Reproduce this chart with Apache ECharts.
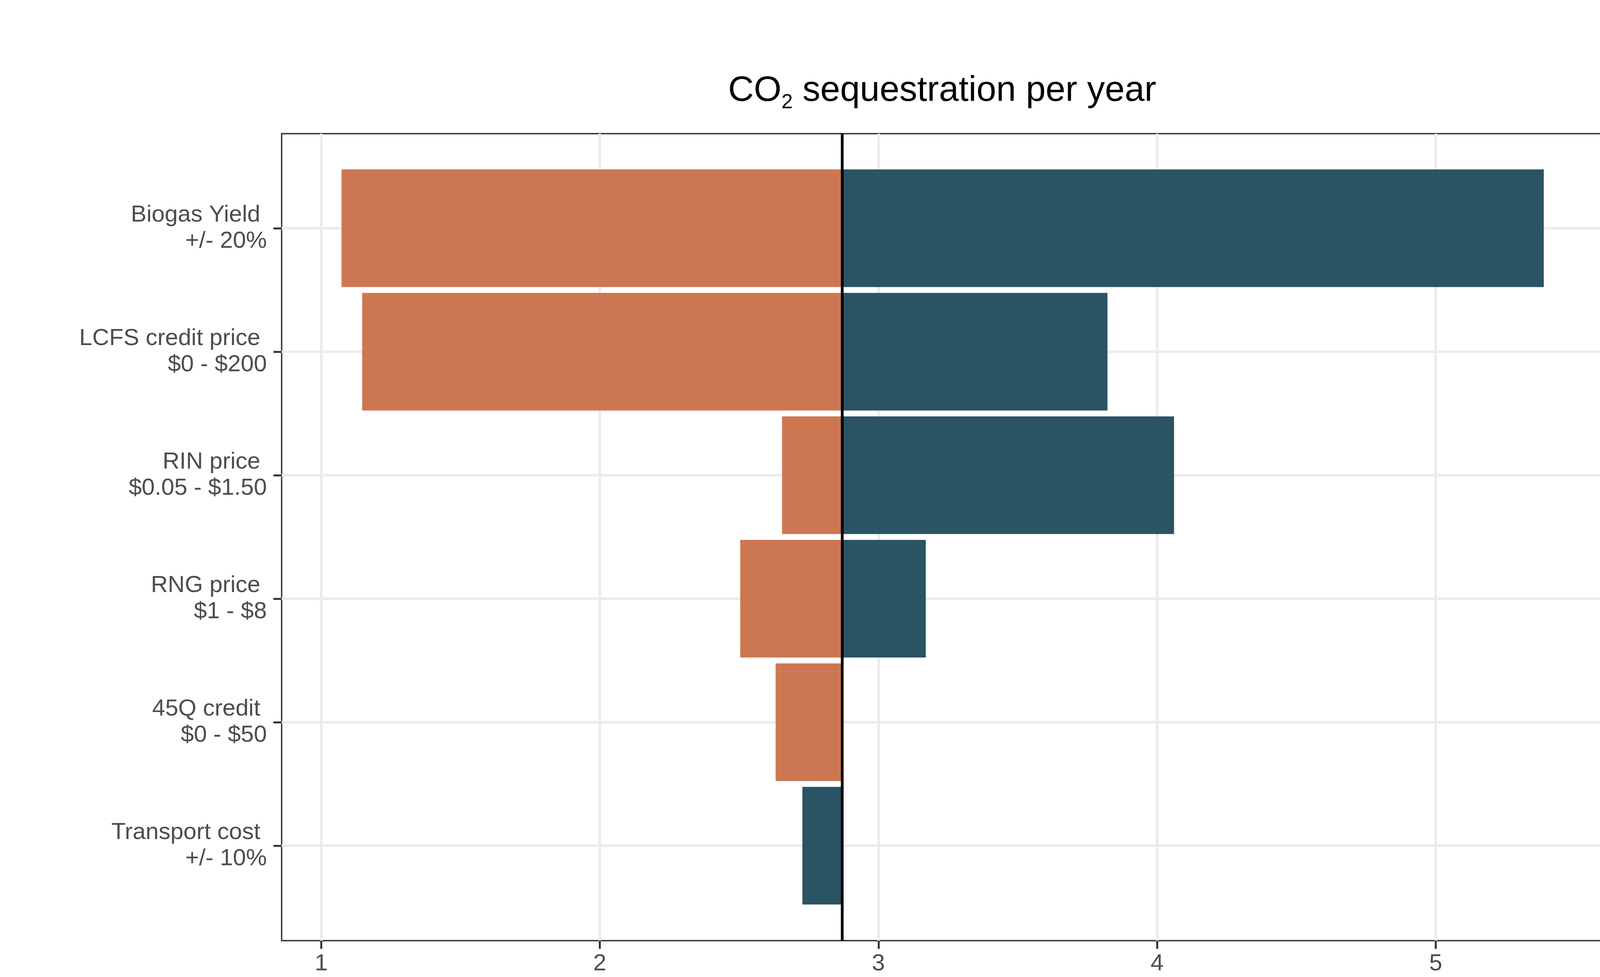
<!DOCTYPE html>
<html>
<head>
<meta charset="utf-8">
<script src="https://cdn.jsdelivr.net/npm/echarts@6/dist/echarts.min.js"></script>
<style>
  html, body { margin: 0; padding: 0; background: #ffffff; }
  #chart { width: 4500px; height: 2500px; }
</style>
</head>
<body>
<div id="chart"></div>
<script>
// ---- data ----
const categories = [
  'Biogas Yield \n+/- 20%',
  'LCFS credit price \n$0 - $200',
  'RIN price \n$0.05 - $1.50',
  'RNG price \n$1 - $8',
  '45Q credit \n$0 - $50',
  'Transport cost \n+/- 10%'
];
const lowCaseValues  = [1.073, 1.147, 2.654, 2.504, 2.631, 2.870];
const highCaseValues = [5.388, 3.822, 4.061, 3.170, 2.870, 2.727];
const baseValue = 2.870;
const xTickValues = [1, 2, 3, 4, 5];
const xMin = 0.858;
const xMax = 5.601;

// ---- build data for the library ----
function segments(values) {
  return values.map(function (v, i) {
    return [i, Math.min(v, baseValue), Math.max(v, baseValue)];
  });
}
const lowData = segments(lowCaseValues);
const highData = segments(highCaseValues);

const FONT = "'Liberation Sans', Arial, Helvetica, sans-serif";
const TEXT_COLOR = '#4d4d4d';
const GRID_COLOR = '#ebebeb';

function renderBar(params, api) {
  const cat = api.value(0);
  const p1 = api.coord([api.value(1), cat]);
  const p2 = api.coord([api.value(2), cat]);
  const bh = api.size([0, 1])[1] * 0.9525;
  const w = p2[0] - p1[0];
  if (w <= 0) return null;
  return {
    type: 'rect',
    shape: { x: p1[0], y: p1[1] - bh / 2, width: w, height: bh },
    style: { fill: api.visual('color') }
  };
}

const chart = echarts.init(document.getElementById('chart'), null, { renderer: 'canvas' });
chart.setOption({
  backgroundColor: '#ffffff',
  animation: false,
  textStyle: { fontFamily: FONT },
  graphic: [{
    type: 'text',
    x: 2412,
    y: 233,
    z: 10,
    style: {
      text: 'CO{s|2} sequestration per year',
      fontFamily: FONT,
      fontSize: 91,
      lineHeight: 91,
      fill: '#000000',
      align: 'center',
      verticalAlign: 'middle',
      textAlign: 'center',
      textVerticalAlign: 'middle',
      rich: {
        s: { fontSize: 52, height: 32, lineHeight: 32, verticalAlign: 'bottom', fontFamily: FONT, fill: '#000000', color: '#000000' }
      }
    }
  }],
  grid: [
    { left: 721, right: 396, top: 342, bottom: 93, show: true, borderColor: '#333333', borderWidth: 3.5, backgroundColor: 'transparent', containLabel: false },
    { left: 721, right: 396, top: 426, bottom: 178, show: false, containLabel: false }
  ],
  xAxis: [
    {
      type: 'value', gridIndex: 0, min: xMin, max: xMax,
      axisLine: { show: false },
      axisTick: { show: true, customValues: xTickValues, length: 21, lineStyle: { color: '#333333', width: 5 } },
      axisLabel: { show: true, customValues: xTickValues, margin: 29, fontSize: 60, color: TEXT_COLOR, fontFamily: FONT },
      splitLine: { show: true, lineStyle: { color: GRID_COLOR, width: 6.5 } }
    },
    { type: 'value', gridIndex: 1, min: xMin, max: xMax, show: false, splitLine: { show: false } }
  ],
  yAxis: [
    { type: 'value', gridIndex: 0, min: 0, max: 1, show: false, splitLine: { show: false } },
    {
      type: 'category', gridIndex: 1, data: categories, inverse: true, boundaryGap: true,
      axisLine: { show: false },
      axisTick: { show: true, alignWithLabel: true, length: 21, lineStyle: { color: '#333333', width: 5 } },
      axisLabel: { show: true, margin: 38, fontSize: 60, lineHeight: 67, padding: [6, 0, 0, 0], color: TEXT_COLOR, fontFamily: FONT, align: 'right' },
      splitLine: { show: false }
    }
  ],
  series: [
    {
      name: 'hgrid', type: 'custom', xAxisIndex: 1, yAxisIndex: 1, z: 1, silent: true,
      data: categories.map(function (c, i) { return [i]; }),
      encode: { y: 0 },
      renderItem: function (params, api) {
        const y = api.coord([xMin, api.value(0)])[1];
        const cs = params.coordSys;
        return { type: 'line', shape: { x1: cs.x, y1: y, x2: cs.x + cs.width, y2: y }, style: { stroke: GRID_COLOR, lineWidth: 6.5 } };
      }
    },
    {
      name: 'Low', type: 'custom', xAxisIndex: 1, yAxisIndex: 1, z: 2,
      itemStyle: { color: '#CD7652' },
      data: lowData, encode: { y: 0, x: [1, 2] },
      renderItem: renderBar
    },
    {
      name: 'High', type: 'custom', xAxisIndex: 1, yAxisIndex: 1, z: 2,
      itemStyle: { color: '#2A5363' },
      data: highData, encode: { y: 0, x: [1, 2] },
      renderItem: renderBar
    },
    {
      name: 'base', type: 'custom', xAxisIndex: 0, yAxisIndex: 0, z: 3, silent: true,
      data: [[baseValue]], encode: { x: 0 },
      renderItem: function (params, api) {
        const x = api.coord([api.value(0), 0])[0];
        const cs = params.coordSys;
        return { type: 'line', shape: { x1: x, y1: cs.y, x2: x, y2: cs.y + cs.height }, style: { stroke: '#000000', lineWidth: 7 } };
      }
    }
  ]
});
</script>
</body>
</html>
